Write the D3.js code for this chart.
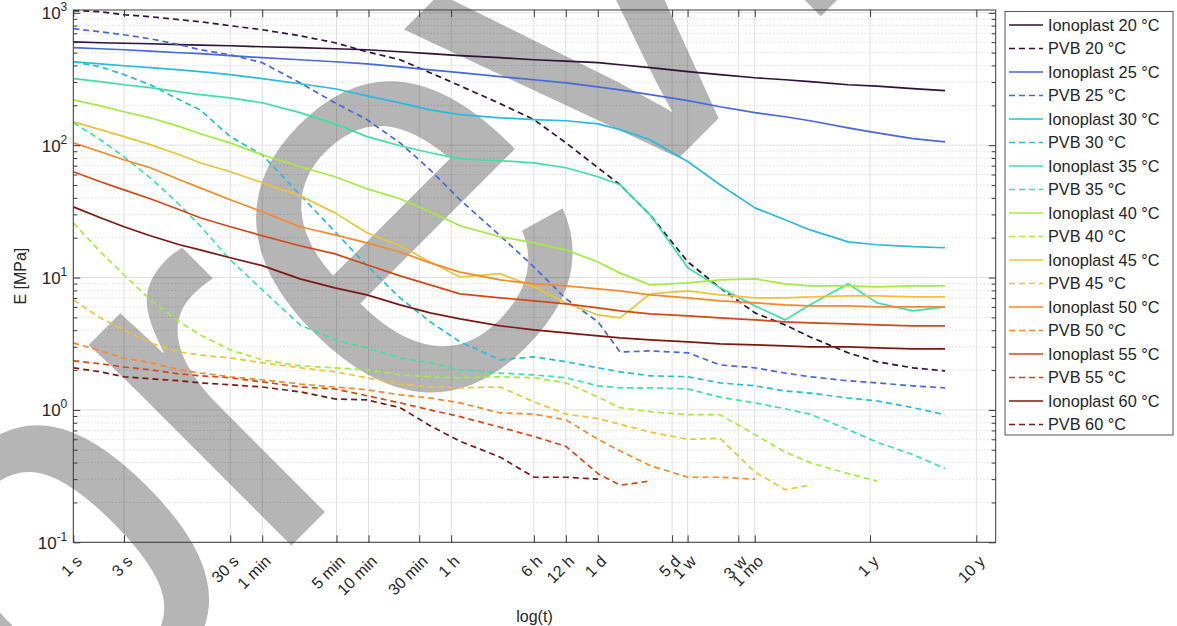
<!DOCTYPE html>
<html>
<head>
<meta charset="utf-8">
<script src="https://cdn.jsdelivr.net/npm/d3@7"></script>
<style>
  body { margin: 0; background: #fff; }
  svg { display: block; }
  text { font-family: "Liberation Sans", Arial, Helvetica, sans-serif; fill: #262626; }
</style>
</head>
<body>
<svg id="chart" width="1177" height="626"></svg>
<script>
// Sampling times in seconds shared by all curves
const times = [1, 1.8, 3, 5.3, 10, 15.6, 30, 60, 136, 290, 580, 1190, 2280, 4360, 10400, 21700,
  43400, 86700, 140000, 268000, 610000, 1220000, 2600000, 5000000, 8600000, 19600000,
  36700000, 80000000, 160000000];

// Relaxation modulus E [MPa] per material and temperature (null = no data)
const ionoplast20 = [604, 594, 589, 584, 574, 569, 564, 554, 545, 535, 526, 508, 491, 474, 458, 442, 431, 420, 405, 385, 359, 341, 323, 312, 302, 286, 279, 267, 258];
const pvb20 = [1040, 1020, 967, 934, 887, 857, 799, 745, 671, 594, 508, 442, 353, 281, 206, 156, 104, 67.5, 50.2, 29.8, 13.1, 8.36, 5.41, 4.39, 3.56, 2.70, 2.31, 2.08, 1.97];
const ionoplast25 = [545, 535, 526, 513, 499, 491, 474, 458, 442, 427, 412, 391, 371, 353, 329, 312, 296, 276, 262, 241, 217, 195, 176, 164, 153, 135, 124, 112, 106];
const pvb25 = [759, 719, 683, 637, 574, 526, 482, 420, 296, 209, 156, 104, 65.2, 38.7, 20.7, 12.0, 6.90, 4.63, 2.74, 2.79, 2.70, 2.19, 2.08, 1.90, 1.78, 1.66, 1.60, 1.52, 1.47];
const ionoplast30 = [427, 412, 398, 385, 371, 359, 341, 318, 291, 267, 236, 209, 185, 170, 161, 156, 153, 145, 131, 110, 74.9, 50.2, 33.6, 27.3, 22.9, 18.6, 17.7, 17.1, 16.8];
const pvb30 = [427, 391, 341, 286, 220, 185, 116, 84.6, 42.2, 22.2, 12.3, 7.02, 4.63, 3.27, 2.39, 2.52, 2.31, 2.08, 1.94, 1.81, 1.78, 1.60, 1.52, 1.39, 1.34, 1.23, 1.17, 1.04, 0.92];
const ionoplast35 = [318, 302, 286, 272, 253, 241, 228, 209, 176, 145, 116, 99, 87.7, 78.9, 76.3, 73.6, 67.5, 57.7, 50.2, 29.8, 11.8, 8.36, 6.11, 4.79, 6.22, 8.96, 6.44, 5.60, 6.01];
const pvb35 = [148, 110, 81.7, 56.7, 35.4, 24.6, 13.6, 8.07, 4.39, 3.38, 2.94, 2.47, 2.27, 2.01, 1.90, 1.84, 1.75, 1.52, 1.47, 1.47, 1.44, 1.25, 1.13, 1.02, 0.93, 0.71, 0.57, 0.46, 0.36];
const ionoplast40 = [220, 198, 179, 161, 138, 122, 104, 84.6, 68.7, 57.7, 46.8, 39.4, 31.4, 24.6, 20.3, 18.3, 16.2, 13.1, 10.8, 8.81, 9.12, 9.61, 9.78, 8.96, 8.65, 8.65, 8.51, 8.65, 8.65];
const pvb40 = [25.9, 15.6, 10.5, 6.78, 4.63, 3.69, 2.84, 2.39, 2.15, 2.08, 2.01, 1.84, 1.78, 1.75, 1.78, 1.75, 1.60, 1.25, 1.04, 0.97, 0.92, 0.92, 0.65, 0.48, 0.40, 0.33, 0.29, null, null];
const ionoplast45 = [150, 131, 116, 101, 84.6, 73.6, 63.0, 52.0, 41.5, 30.8, 21.8, 17.4, 13.1, 10.1, 10.7, 8.51, 6.44, 5.22, 4.96, 7.53, 7.93, 7.40, 7.03, 7.03, 7.14, 7.27, 7.27, 7.14, 7.14];
const pvb45 = [6.78, 4.96, 4.02, 3.21, 2.74, 2.60, 2.47, 2.27, 2.08, 1.94, 1.75, 1.57, 1.49, 1.47, 1.49, 1.15, 0.93, 0.86, 0.78, 0.68, 0.60, 0.61, 0.34, 0.25, 0.27, null, null, null, null];
const ionoplast50 = [104, 89.2, 77.6, 67.5, 54.8, 47.6, 38.7, 31.4, 24.2, 21.0, 18.3, 15.6, 12.9, 11.0, 9.61, 8.96, 8.65, 8.22, 7.93, 7.40, 7.03, 6.67, 6.44, 6.22, 6.11, 6.11, 6.01, 6.01, 6.01];
const pvb50 = [3.21, 2.79, 2.47, 2.27, 2.01, 1.90, 1.78, 1.69, 1.57, 1.49, 1.42, 1.30, 1.23, 1.13, 0.95, 0.93, 0.84, 0.60, 0.49, 0.38, 0.31, 0.31, 0.30, null, null, null, null, null, null];
const ionoplast55 = [63.0, 52.9, 46.0, 39.4, 32.5, 28.3, 24.2, 20.7, 17.4, 15.1, 12.5, 10.3, 8.81, 7.53, 7.03, 6.67, 6.33, 5.90, 5.60, 5.32, 5.13, 4.96, 4.79, 4.63, 4.55, 4.47, 4.39, 4.32, 4.32];
const pvb55 = [2.35, 2.23, 2.11, 2.01, 1.87, 1.81, 1.75, 1.63, 1.49, 1.44, 1.28, 1.13, 1.00, 0.89, 0.74, 0.63, 0.53, 0.33, 0.27, 0.29, null, null, null, null, null, null, null, null, null];
const ionoplast60 = [34.2, 28.3, 24.2, 20.7, 17.7, 16.2, 14.1, 12.3, 9.78, 8.36, 7.40, 6.22, 5.41, 4.87, 4.32, 4.02, 3.82, 3.63, 3.50, 3.38, 3.27, 3.15, 3.10, 3.05, 2.99, 2.99, 2.94, 2.89, 2.89];
const pvb60 = [2.08, 1.94, 1.78, 1.72, 1.66, 1.60, 1.55, 1.49, 1.37, 1.21, 1.19, 1.04, 0.76, 0.58, 0.44, 0.31, 0.31, 0.30, null, null, null, null, null, null, null, null, null, null, null];

const temperatures = [20, 25, 30, 35, 40, 45, 50, 55, 60];
const temperatureColors = ["#30123b", "#4669db", "#28bbde", "#3be3a2", "#a4ec3e", "#ecc43a", "#f5892b", "#d44717", "#7d1810"];

// X axis ticks (seconds) and their labels
const xTickValues = [1, 3, 30, 60, 300, 600, 1800, 3600, 21600, 43200, 86400, 432000, 604800, 1814400, 2592000, 31536000, 315360000];
const xTickLabels = ["1 s", "3 s", "30 s", "1 min", "5 min", "10 min", "30 min", "1 h", "6 h", "12 h", "1 d", "5 d", "1 w", "3 w", "1 mo", "1 y", "10 y"];
const yTickValues = [0.1, 1, 10, 100, 1000];
const yTickExponents = ["-1", "0", "1", "2", "3"];

const ionoplastSeries = [ionoplast20, ionoplast25, ionoplast30, ionoplast35, ionoplast40, ionoplast45, ionoplast50, ionoplast55, ionoplast60];
const pvbSeries = [pvb20, pvb25, pvb30, pvb35, pvb40, pvb45, pvb50, pvb55, pvb60];

const series = [];
temperatures.forEach((T, i) => {
  series.push({ name: `Ionoplast ${T} °C`, values: ionoplastSeries[i], color: temperatureColors[i], dashed: false });
  series.push({ name: `PVB ${T} °C`, values: pvbSeries[i], color: temperatureColors[i], dashed: true });
});

const svg = d3.select("#chart");
const plot = { left: 73.3, right: 995.7, top: 10, bottom: 542.3 };

const x = d3.scaleLog().domain([1, 4.8e8]).range([plot.left, plot.right]);
const y = d3.scaleLog().domain([0.1, 1050]).range([plot.bottom, plot.top]);

// minor y ticks 2..9 x 10^k
const yMinor = [];
for (let k = -1; k <= 3; k++) for (let m = 2; m <= 9; m++) {
  const v = m * Math.pow(10, k);
  if (v < 1050) yMinor.push(v);
}

const axisColor = "#3a3a3a";

// grid
const grid = svg.append("g");
grid.selectAll("line.ymin").data(yMinor).join("line")
  .attr("x1", plot.left).attr("x2", plot.right)
  .attr("y1", d => y(d)).attr("y2", d => y(d))
  .attr("stroke", "#d4d4d4").attr("stroke-width", 0.8).attr("stroke-dasharray", "1.5,2");
grid.selectAll("line.ymaj").data(yTickValues).join("line")
  .attr("x1", plot.left).attr("x2", plot.right)
  .attr("y1", d => y(d)).attr("y2", d => y(d))
  .attr("stroke", "#e0e0e0").attr("stroke-width", 1);
grid.selectAll("line.xmaj").data(xTickValues).join("line")
  .attr("x1", d => x(d)).attr("x2", d => x(d))
  .attr("y1", plot.top).attr("y2", plot.bottom)
  .attr("stroke", "#e0e0e0").attr("stroke-width", 1);

// large diagonal watermark lettering behind the curves
const mark = svg.append("g")
  .attr("transform", "translate(52.6,784.4) rotate(-45)")
  .style("fill", "#000")
  .style("fill-opacity", 0.29);
mark.append("text").attr("x", 0).attr("y", 0).attr("font-size", 540).style("fill", "#000").text("pr");
mark.append("text").attr("x", 479.5).attr("y", 20).attr("font-size", 580).style("fill", "#000").text("e");
mark.append("text").attr("x", 780.3).attr("y", 0).attr("font-size", 540).style("fill", "#000").text("view");

// clip for curves
svg.append("clipPath").attr("id", "plotClip").append("rect")
  .attr("x", plot.left).attr("y", plot.top)
  .attr("width", plot.right - plot.left).attr("height", plot.bottom - plot.top);

const line = d3.line()
  .defined(d => d[1] != null)
  .x(d => x(d[0]))
  .y(d => y(d[1]));

const curves = svg.append("g").attr("clip-path", "url(#plotClip)");
series.forEach(s => {
  curves.append("path")
    .datum(times.map((t, i) => [t, s.values[i]]))
    .attr("d", line)
    .attr("fill", "none")
    .attr("stroke", s.color)
    .attr("stroke-width", 1.7)
    .attr("stroke-dasharray", s.dashed ? "6,4" : null)
    .attr("stroke-linejoin", "round");
});

// axes box
svg.append("rect")
  .attr("x", plot.left).attr("y", plot.top)
  .attr("width", plot.right - plot.left).attr("height", plot.bottom - plot.top)
  .attr("fill", "none").attr("stroke", axisColor).attr("stroke-width", 1);

// x axis (bottom) with inward ticks and slanted labels
const xAxis = svg.append("g").attr("transform", `translate(0,${plot.bottom})`)
  .call(d3.axisBottom(x).tickValues(xTickValues).tickSize(-7).tickSizeOuter(0)
    .tickFormat((d, i) => xTickLabels[i]));
xAxis.select(".domain").remove();
xAxis.selectAll(".tick line").attr("stroke", axisColor);
xAxis.selectAll(".tick text")
  .attr("font-size", 16)
  .attr("text-anchor", "end")
  .attr("dy", 0)
  .attr("y", 0)
  .attr("transform", "translate(9,20) rotate(-45)");

// top ticks
svg.append("g").attr("transform", `translate(0,${plot.top})`)
  .call(d3.axisTop(x).tickValues(xTickValues).tickSize(-7).tickSizeOuter(0).tickFormat(""))
  .call(g => g.select(".domain").remove())
  .selectAll(".tick line").attr("stroke", axisColor);

// y axis left: major ticks with power-of-ten labels
const yAxis = svg.append("g").attr("transform", `translate(${plot.left},0)`)
  .call(d3.axisLeft(y).tickValues(yTickValues).tickSize(-7).tickSizeOuter(0).tickFormat(""));
yAxis.select(".domain").remove();
yAxis.selectAll(".tick line").attr("stroke", axisColor);
yAxis.selectAll(".tick").each(function (d, i) {
  const t = d3.select(this).append("text")
    .attr("x", -6).attr("y", 6)
    .attr("text-anchor", "end")
    .attr("font-size", 17)
    .style("fill", "#262626");
  t.append("tspan").text("10");
  t.append("tspan").attr("dy", -8).attr("font-size", 12).text(yTickExponents[i]);
});
// minor ticks left and right, major ticks right
svg.append("g").attr("transform", `translate(${plot.left},0)`)
  .call(d3.axisLeft(y).tickValues(yMinor).tickSize(-4).tickSizeOuter(0).tickFormat(""))
  .call(g => g.select(".domain").remove())
  .selectAll(".tick line").attr("stroke", axisColor);
svg.append("g").attr("transform", `translate(${plot.right},0)`)
  .call(d3.axisRight(y).tickValues(yTickValues).tickSize(-7).tickSizeOuter(0).tickFormat(""))
  .call(g => g.select(".domain").remove())
  .selectAll(".tick line").attr("stroke", axisColor);
svg.append("g").attr("transform", `translate(${plot.right},0)`)
  .call(d3.axisRight(y).tickValues(yMinor).tickSize(-4).tickSizeOuter(0).tickFormat(""))
  .call(g => g.select(".domain").remove())
  .selectAll(".tick line").attr("stroke", axisColor);

// axis titles
svg.append("text")
  .attr("transform", `translate(26,${(plot.top + plot.bottom) / 2}) rotate(-90)`)
  .attr("text-anchor", "middle")
  .attr("font-size", 16)
  .text("E [MPa]");
svg.append("text")
  .attr("x", (plot.left + plot.right) / 2).attr("y", 622)
  .attr("text-anchor", "middle")
  .attr("font-size", 16)
  .text("log(t)");

// legend
const legend = svg.append("g");
const lg = { x: 1005, y: 11.5, w: 168, h: 423.5, first: 25, step: 23.5 };
legend.append("rect")
  .attr("x", lg.x).attr("y", lg.y).attr("width", lg.w).attr("height", lg.h)
  .attr("fill", "#fff").attr("stroke", "#555").attr("stroke-width", 1);
series.forEach((s, i) => {
  const yy = lg.first + i * lg.step;
  legend.append("line")
    .attr("x1", 1009).attr("x2", 1043).attr("y1", yy).attr("y2", yy)
    .attr("stroke", s.color).attr("stroke-width", 1.7)
    .attr("stroke-dasharray", s.dashed ? "6,4" : null);
  legend.append("text")
    .attr("x", 1048).attr("y", yy)
    .attr("dy", "0.36em")
    .attr("font-size", 16.3)
    .text(s.name);
});
</script>
</body>
</html>
